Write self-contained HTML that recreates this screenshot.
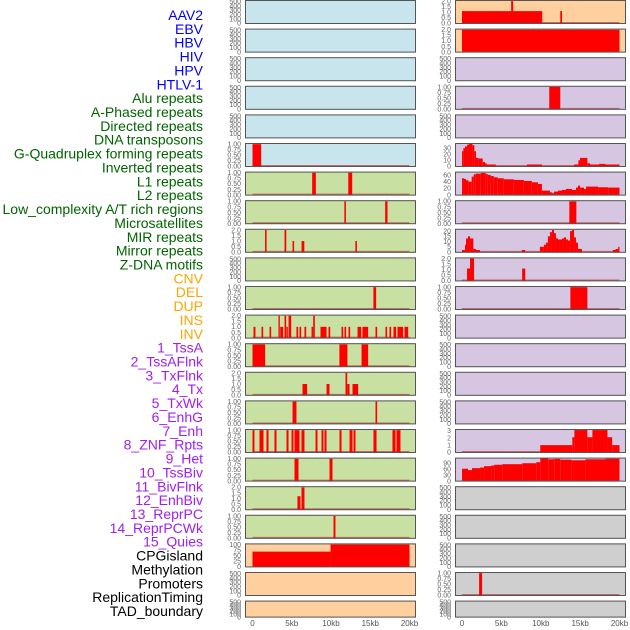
<!DOCTYPE html>
<html><head><meta charset="utf-8">
<style>
body{margin:0;background:#fff;}
svg{display:block;font-family:"Liberation Sans",sans-serif;}
</style></head>
<body>
<svg id="chart" width="630" height="630" viewBox="0 0 630 630" xmlns="http://www.w3.org/2000/svg"></svg>
<script>
const trackNames=["AAV2","EBV","HBV","HIV","HPV","HTLV-1","Alu repeats","A-Phased repeats","Directed repeats","DNA transposons","G-Quadruplex forming repeats","Inverted repeats","L1 repeats","L2 repeats","Low_complexity A/T rich regions","Microsatellites","MIR repeats","Mirror repeats","Z-DNA motifs","CNV","DEL","DUP","INS","INV","1_TssA","2_TssAFlnk","3_TxFlnk","4_Tx","5_TxWk","6_EnhG","7_Enh","8_ZNF_Rpts","9_Het","10_TssBiv","11_BivFlnk","12_EnhBiv","13_ReprPC","14_ReprPCWk","15_Quies","CPGisland","Methylation","Promoters","ReplicationTiming","TAD_boundary"];
const trackGroups=["v","v","v","v","v","v","r","r","r","r","r","r","r","r","r","r","r","r","r","s","s","s","s","s","c","c","c","c","c","c","c","c","c","c","c","c","c","c","c","o","o","o","o","o"];
const xTickLabels=["0","5kb","10kb","15kb","20kb"];
const xTickValues=[0,5,10,15,20];
const ticksEmpty=[0,100,200,300,400,500];
const ticksUnit=[0,0.25,0.5,0.75,1];
const ticksTwo=[0,0.5,1,1.5,2];
const segAlu=[[7.6,8.07,1],[12.2,12.7,1]];
const segAPhased=[[11.7,11.9,1],[16.9,17.2,1]];
const segDirected=[[1.6,1.8,2],[4.08,4.3,2],[5.1,5.3,1],[6.25,6.6,1],[13.1,13.3,1]];
const segHTLV=[[0,1.1,1]];
const segGQuad=[[15.4,15.75,1]];
const segInverted=[[0.13,0.38,1],[1.15,1.36,1],[2.17,2.38,1],[3.31,3.48,2],[3.53,3.91,1],[4.08,4.29,2],[4.33,4.5,1],[4.59,4.93,2],[5.6,5.82,1],[5.99,6.2,1],[6.62,6.84,1],[7.52,7.73,1],[7.73,7.94,2],[8.66,9.43,1],[9.68,9.9,1],[11.34,11.55,1],[11.72,11.93,1],[12.23,12.44,1],[13.38,13.85,1],[14.0,14.73,1],[15.67,15.88,1],[16.94,17.15,1],[17.45,17.66,1],[17.96,18.3,1],[18.47,19.19,1],[19.36,19.83,1]];
const segL1=[[0,1.61,1],[11.07,12.09,1],[13.89,14.73,1]];
const segL2=[[6.37,6.96,1],[9.43,9.81,1],[11.85,12.06,2],[12.06,12.36,1],[12.74,13.46,1]];
const segLowComp=[[5.1,5.6,1],[15.67,15.88,1]];
const segMicro=[[0,0.25,1],[0.89,1.4,1],[1.78,2.04,1],[2.8,3.06,1],[4.33,4.59,1],[4.97,5.22,1],[5.35,5.99,1],[6.24,6.62,1],[8.03,8.28,1],[8.79,9.04,1],[9.17,9.43,1],[11.08,11.34,1],[12.36,12.74,1],[12.87,13.12,1],[15.41,15.8,1],[17.83,18.22,1],[18.34,18.85,1]];
const segMIR=[[5.35,5.86,1],[9.81,10.19,1]];
const segMirror=[[5.73,6.11,1.2],[6.24,6.62,2]];
const segZDNA=[[10.32,10.57,1]];
const segCNV=[[0,9.94,68],[9.94,20,100]];
const segINS=[[0,10.19,1.1],[6.24,6.5,2],[12.48,12.7,1.1]];
const segINV=[[0,20,2]];
const segTssAFlnk=[[11.08,12.48,1]];
const segTx=[[0,0.17,25],[0.17,0.38,30],[0.38,0.64,33],[0.64,0.89,36],[0.89,1.32,37],[1.32,1.57,35],[1.57,1.78,25],[1.78,2.08,14],[2.08,2.63,13],[2.63,2.93,7],[2.93,3.14,5],[3.14,4.29,3],[8.24,10.15,3],[14.23,14.78,3],[14.78,14.99,10],[14.99,15.92,14],[15.92,16.26,5],[16.26,17.41,3],[17.41,18.22,4],[18.22,20,3]];
const segTxWk=[[0,0.25,50],[0.25,0.51,48],[0.51,0.81,44],[0.81,1.23,40],[1.23,1.49,55],[1.49,1.74,62],[1.74,2.38,64],[2.38,3.01,66],[3.01,3.27,63],[3.27,3.65,60],[3.65,4.03,57],[4.03,4.54,53],[4.54,5.31,50],[5.31,6.58,47],[6.58,7.86,45],[7.86,8.87,42],[8.87,9.64,38],[9.64,10.15,33],[10.15,11.17,13],[11.17,11.42,8],[11.42,11.68,5],[11.68,12.19,10],[12.19,12.7,13],[12.7,13.21,15],[13.21,13.97,18],[13.97,14.48,15],[14.48,14.73,22],[14.73,14.99,28],[14.99,15.5,22],[15.5,15.75,18],[15.75,17.28,25],[17.28,18.56,23],[18.56,20,22]];
const segEnhG=[[13.63,14.52,1]];
const segEnh=[[0,0.38,2],[0.38,0.51,7],[0.51,0.76,13],[0.76,1.02,15],[1.02,1.44,13],[1.44,1.78,3],[1.78,2.29,2],[7.6,8.03,2],[9.89,10.4,5],[10.4,10.66,7],[10.66,10.91,9],[10.91,11.17,15],[11.17,11.42,19],[11.42,11.68,21],[11.68,11.93,18],[11.93,12.19,13],[12.19,12.44,12],[12.44,12.7,12],[12.7,12.95,13],[12.95,13.21,14],[13.21,13.46,12],[13.46,13.72,11],[13.72,13.97,20],[13.97,14.23,21],[14.23,14.48,14],[14.48,14.73,9],[14.73,15.24,3],[19.15,19.49,2],[19.49,19.83,3],[19.83,20,5]];
const segZNF=[[0.64,1.02,1.1],[1.02,1.53,2],[7.64,8.03,1.1]];
const segHet=[[13.76,15.92,1]];
const segReprPCWk=[[9.94,14.01,1],[14.01,14.27,2.1],[14.27,15.92,3.1],[15.92,16.56,2.1],[16.56,18.47,3.1],[18.47,19.07,2.1],[19.07,20,1]];
const segQuies=[[0,0.76,62],[0.76,1.27,55],[1.27,2.29,65],[2.29,2.8,68],[2.8,3.69,75],[3.69,4.08,78],[4.08,5.1,82],[5.1,7.64,85],[7.64,9.43,90],[9.43,9.94,95],[9.94,10.96,115],[10.96,11.72,110],[11.72,12.48,112],[12.48,13.89,108],[13.89,15.67,105],[15.67,18.22,110],[18.22,20,113]];
const segPromoters=[[2.17,2.55,1]];
const trackSegs=[null,null,null,null,null,segHTLV,segAlu,segAPhased,segDirected,null,segGQuad,segInverted,segL1,segL2,segLowComp,segMicro,segMIR,segMirror,segZDNA,segCNV,null,null,segINS,segINV,null,segTssAFlnk,null,segTx,segTxWk,segEnhG,segEnh,segZNF,segHet,null,null,null,null,segReprPCWk,segQuies,null,null,null,segPromoters,null];
const trackYMax=[520,520,520,520,520,1.02,1.02,1.02,2.04,520,1.02,2.04,1.02,2.04,1.02,1.02,1.02,2.04,1.02,102,520,520,2.04,2.04,520,1.02,520,37.5,68,1.02,21.5,2.04,1.02,520,520,520,520,3.15,115,520,520,520,1.02,520];
const tickSets={e:ticksEmpty,u:ticksUnit,t:ticksTwo,cnv:[0,25,50,75,100],tx:[0,10,20,30],txwk:[0,20,40,60],enh:[0,5,10,15,20],rp:[0,1,2,3],q:[0,30,60,90]};
const trackTickKey=["e","e","e","e","e","u","u","u","t","e","u","t","u","t","u","u","u","t","u","cnv","e","e","t","t","e","u","e","tx","txwk","u","enh","t","u","e","e","e","e","rp","q","e","e","e","u","e"];
const trackBaseline=[0,0,0,0,0,1,1,1,1,0,1,1,1,1,1,1,1,1,1,0,0,0,1,0,0,1,0,1,0,1,1,1,1,0,0,0,0,1,0,0,0,0,1,0];

const svg=document.getElementById('chart');
const NS='http://www.w3.org/2000/svg';
function mk(tag,attrs,parent){const e=document.createElementNS(NS,tag);for(const k in attrs)e.setAttribute(k,attrs[k]);(parent||svg).appendChild(e);return e;}
const groupColor={v:"#0000ff",r:"#006400",s:"#ffa500",c:"#a020f0",o:"#000000"};
const groupBg={v:"#c8e4ec",r:"#c8e1a2",s:"#ffcf9e",c:"#d6c6e2",o:"#cfcfcf"};
const cols=[{x0:245,x1:416,d0:252.5,d1:409.5,tx:241},{x0:455,x1:626,d0:462,d1:619.5,tx:451}];
function fmt(v,key){
  if(key==='u')return v.toFixed(2);
  if(key==='t')return v.toFixed(1);
  return String(v);
}
const n=trackNames.length;
trackNames.forEach((name,i)=>{
  const t=mk('text',{x:203,y:15+i*(596/43)+5,'text-anchor':'end','font-size':'14',fill:groupColor[trackGroups[i]]});
  t.textContent=name;
  
  
});
for(let i=0;i<n;i++){
  const col=cols[i<22?0:1];
  const row=i%22;
  const top=row*28.6;
  const h=row===21?17:24;
  const g=mk('g',{});
  
  
  mk('rect',{x:col.x0,y:top,width:col.x1-col.x0,height:h,fill:groupBg[trackGroups[i]]},g);
  const ymax=trackYMax[i];
  const yb=top+h-0.7, ytop=top+0.7;
  const ys=v=>yb-(v/ymax)*(yb-ytop);
  const xs=v=>col.d0+(v/20)*(col.d1-col.d0);
  if(trackBaseline[i]){
    const bl=mk('line',{x1:xs(0),x2:xs(20),y1:yb-0.5,y2:yb-0.5,stroke:"#c0504d",'stroke-width':1.5,opacity:0.8},g);
    
    
  }
  const segs=trackSegs[i];
  if(segs){
    segs.forEach(s=>{
      const r=mk('rect',{x:xs(s[0]),y:ys(s[2]),width:Math.max(0.8,xs(s[1])-xs(s[0])),height:yb-ys(s[2]),fill:"#ff0000"},g);
      
      
    });
  }
  mk('rect',{x:col.x0+0.5,y:top+0.5,width:col.x1-col.x0-1,height:h-1,fill:"none",stroke:"#555",'stroke-width':1},g);
  const key=trackTickKey[i];
  tickSets[key].forEach(v=>{
    const t=mk('text',{x:col.tx,y:ys(v)+2.4,'text-anchor':'end','font-size':'7',fill:"#666"},g);
    t.textContent=fmt(v,key);
    
    
  });
}
cols.forEach((col,ci)=>{
  xTickValues.forEach((v,k)=>{
    const t=mk('text',{x:col.d0+(v/20)*(col.d1-col.d0),y:626,'text-anchor':'middle','font-size':'8',fill:"#555"});
    t.textContent=xTickLabels[k];
    
    
  });
});
</script>
</body></html>
